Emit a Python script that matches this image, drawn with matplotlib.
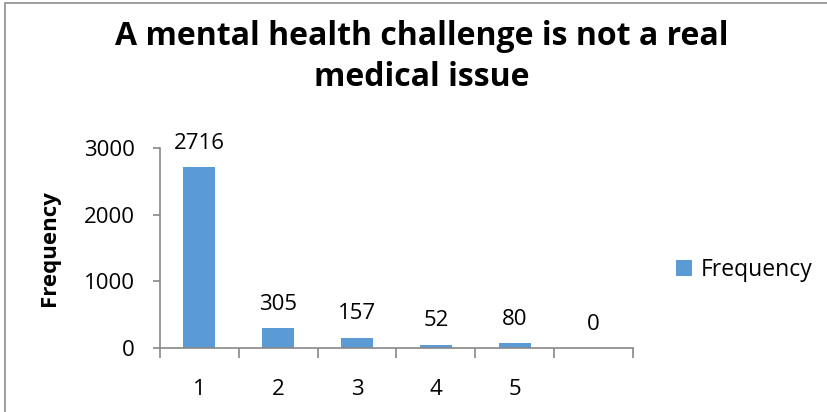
import matplotlib
matplotlib.use("Agg")
import matplotlib.pyplot as plt
from matplotlib.patches import Rectangle
import numpy as np

categories = ["1", "2", "3", "4", "5", ""]
frequency = [2716, 305, 157, 52, 80, 0]
title = "A mental health challenge is not a real\nmedical issue"
series_name = "Frequency"
yticks = [0, 1000, 2000, 3000]

bar_color = "#5B9BD5"
axis_color = "#878787"
font = ["Open Sans", "DejaVu Sans"]
plt.rcParams["font.family"] = font

fig = plt.figure(figsize=(8.27, 4.12), dpi=100)
ax = fig.add_axes([160/827, 64/412, 473/827, 200/412])

x = np.arange(len(categories))
bars = ax.bar(x, frequency, width=0.405, color=bar_color, label=series_name, zorder=2)

for xi, v in zip(x, frequency):
    ax.annotate(str(v), (xi, v), xytext=(0, 17), textcoords="offset points",
                ha="center", va="center", fontsize=16, color="black")

ax.set_xlim(-0.5, len(categories) - 0.5)
ax.set_ylim(0, 3000)
ax.set_yticks(yticks)
ax.set_yticklabels([str(t) for t in yticks])

ax.set_xticks(x)
ax.set_xticklabels(categories)
ax.set_xticks(np.arange(len(categories) + 1) - 0.5, minor=True)
ax.tick_params(axis="x", which="major", length=0, pad=22, labelsize=16)
ax.tick_params(axis="x", which="minor", length=7, width=1.2, color=axis_color, direction="out")
ax.tick_params(axis="y", which="major", length=5, width=1.2, color=axis_color, pad=13, labelsize=16)

for s in ["top", "right"]:
    ax.spines[s].set_visible(False)
for s in ["left", "bottom"]:
    ax.spines[s].set_color(axis_color)
    ax.spines[s].set_linewidth(1.2)

ax.set_ylabel(series_name, fontsize=16, fontweight="bold")
ax.yaxis.set_label_coords(-100/473, 0.5)

fig.text(422/827, 1 - 57/412, title, ha="center", va="center", fontsize=23,
         fontweight="bold", linespacing=1.3)

leg = fig.legend(handles=[bars], labels=[series_name], loc="center left",
                 bbox_to_anchor=(655/827, 1 - 270/412), frameon=False,
                 fontsize=16.5, handlelength=0.7, handleheight=0.7, handletextpad=0.4)

fig.patches.append(Rectangle((5/827, -0.1), 1.2, 1 - 3/412 + 0.1, transform=fig.transFigure,
                             fill=False, edgecolor="#8c8c8c", linewidth=1.2))

fig.savefig("out.png", dpi=100)
